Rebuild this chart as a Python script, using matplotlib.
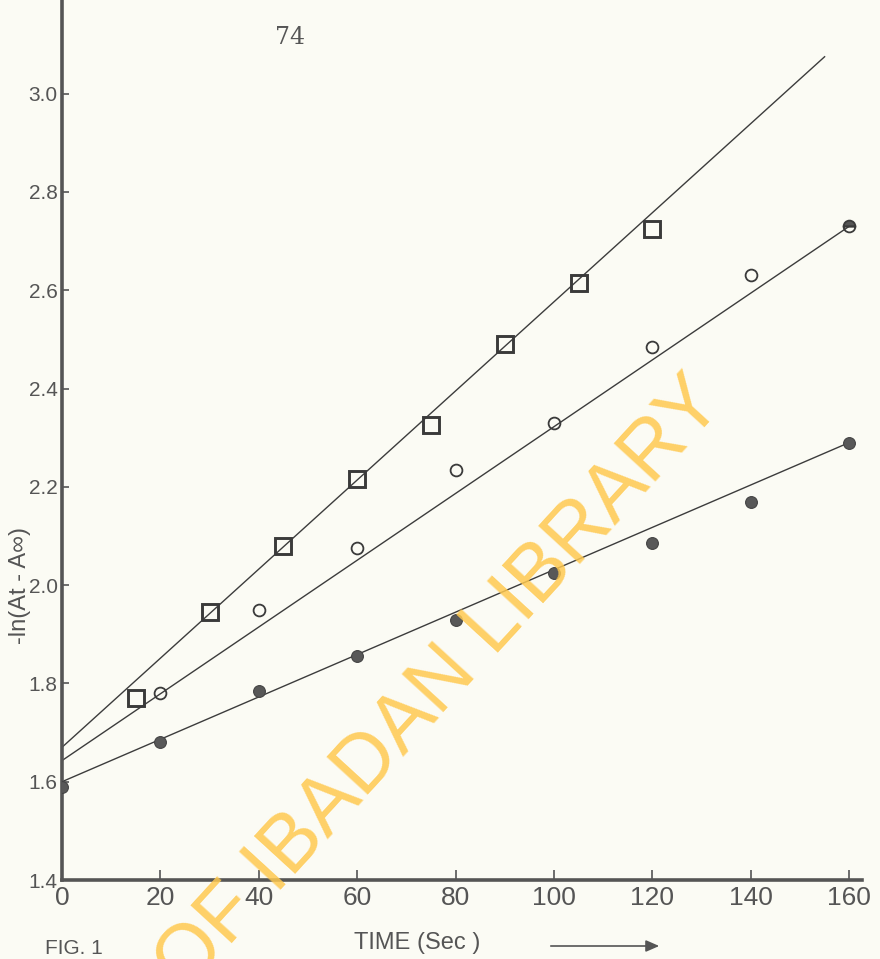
import matplotlib
matplotlib.use("Agg")
import matplotlib.pyplot as plt

# Reaction time (s) and -ln(At - A∞) for three runs
t_square = [15, 30, 45, 60, 75, 90, 105, 120]
y_square = [1.77, 1.945, 2.08, 2.215, 2.325, 2.49, 2.615, 2.725]

t_open = [20, 40, 60, 80, 100, 120, 140, 160]
y_open = [1.78, 1.95, 2.075, 2.235, 2.33, 2.485, 2.63, 2.73]

t_solid = [0, 20, 40, 60, 80, 100, 120, 140, 160]
y_solid = [1.59, 1.68, 1.785, 1.855, 1.93, 2.025, 2.085, 2.17, 2.29]

# hand-fitted straight lines (end points)
fit_square = ([0, 155], [1.67, 3.075])
fit_open = ([0, 160], [1.643, 2.73])
fit_solid = ([0, 160], [1.60, 2.29])

x_ticks = [0, 20, 40, 60, 80, 100, 120, 140, 160]
y_ticks = [1.4, 1.6, 1.8, 2.0, 2.2, 2.4, 2.6, 2.8, 3.0]

W, H = 880, 959
paper = "#fbfbf4"
grey = "#555555"
label_font = ["Liberation Sans", "DejaVu Sans"]

fig = plt.figure(figsize=(W / 100, H / 100), dpi=100, facecolor=paper)
ax = fig.add_axes([62 / W, (H - 880) / H, 800 / W, 880 / H])
ax.set_facecolor("none")

line_kw = dict(color="#3c3c3c", linewidth=1.0, zorder=2)
ax.plot(*fit_square, **line_kw)
ax.plot(*fit_open, **line_kw)
ax.plot(*fit_solid, **line_kw)

ax.plot(t_square, y_square, linestyle="none", marker="s", markersize=11.5,
        markerfacecolor="none", markeredgecolor="#3a3a3a", markeredgewidth=2.1, zorder=3)
ax.plot(t_open[:-1], y_open[:-1], linestyle="none", marker="o", markersize=8.5,
        markerfacecolor="none", markeredgecolor="#3a3a3a", markeredgewidth=1.3, zorder=3)
ax.plot(t_open[-1:], y_open[-1:], linestyle="none", marker="o", markersize=8.5,
        fillstyle="top", markerfacecolor=grey, markerfacecoloralt="none",
        markeredgecolor="#3a3a3a", markeredgewidth=1.3, zorder=3)
ax.plot(t_solid, y_solid, linestyle="none", marker="o", markersize=8.5,
        markerfacecolor="#585858", markeredgecolor="#444444", markeredgewidth=0.8, zorder=3)

ax.set_xlim(0, 162.6)
ax.set_ylim(1.4, 1.4 + 880 / 491.5)
ax.set_xticks(x_ticks)
ax.set_xticklabels([str(v) for v in x_ticks])
ax.set_yticks(y_ticks)
ax.set_yticklabels([f"{v:.1f}" for v in y_ticks])

for side in ("top", "right"):
    ax.spines[side].set_visible(False)
for side in ("left", "bottom"):
    ax.spines[side].set_color(grey)
    ax.spines[side].set_linewidth(2.6)

ax.tick_params(axis="x", direction="in", length=7, width=1.2, color=grey,
               pad=4, labelsize=19, labelcolor=grey)
ax.tick_params(axis="y", direction="in", length=5, width=1.2, color=grey,
               pad=3, labelsize=15, labelcolor=grey)
for lab in ax.get_xticklabels() + ax.get_yticklabels():
    lab.set_family(label_font)

# axis titles and page furniture
fig.text(20 / W, 1 - 586 / H, "-ln(At - A∞)", rotation=90, ha="center", va="center",
         fontsize=17, color=grey, family=label_font)
fig.text(417 / W, 1 - 943 / H, "TIME (Sec )", ha="center", va="center",
         fontsize=17, color=grey, family=label_font)
fig.add_artist(matplotlib.patches.FancyArrowPatch(
    (548 / W, 1 - 946 / H), (662 / W, 1 - 946 / H), transform=fig.transFigure,
    arrowstyle="-|>,head_length=8,head_width=3.5", color=grey, linewidth=1.2))
fig.text(45 / W, 1 - 958 / H, "FIG. 1", ha="left", va="bottom",
         fontsize=15, color=grey, family=label_font)
fig.text(290 / W, 1 - 38 / H, "74", ha="center", va="center",
         fontsize=17, color=grey, family="DejaVu Serif")

# library watermark
fig.text(726 / W, 1 - 404 / H, "UNIVERSITY OF IBADAN LIBRARY", rotation=47.5,
         rotation_mode="anchor", ha="right", va="baseline", fontsize=58,
         color="#ffc94f", alpha=0.85, family="Liberation Sans", zorder=10)

fig.savefig("out.png", dpi=100, facecolor=paper)
